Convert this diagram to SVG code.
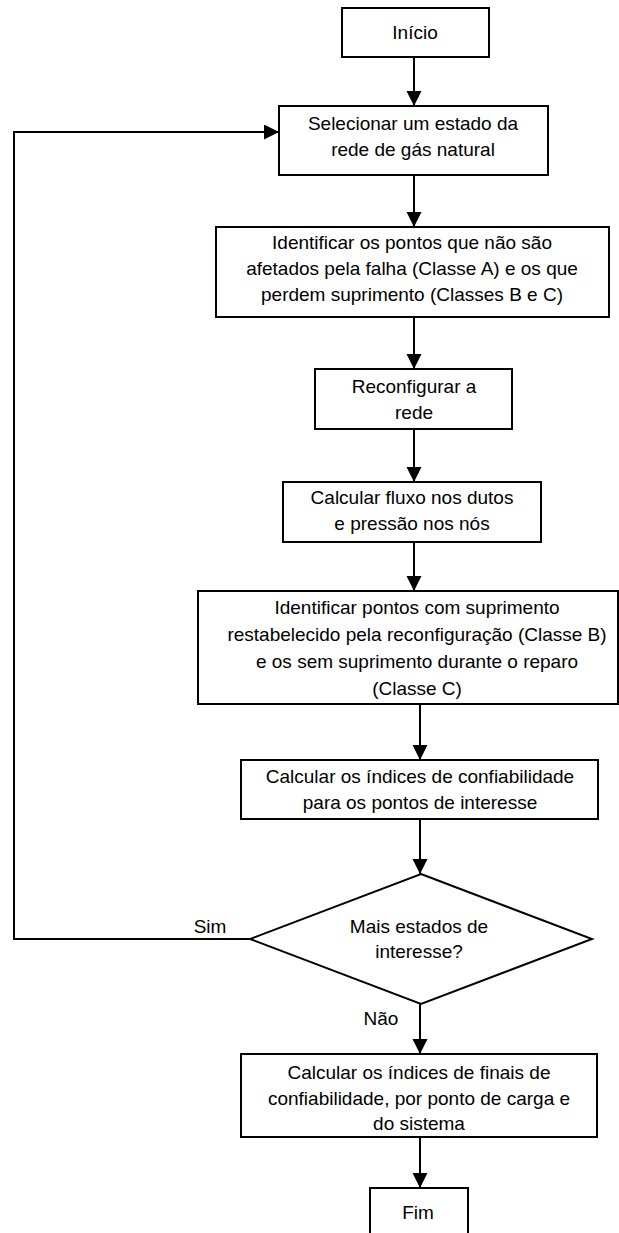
<svg xmlns="http://www.w3.org/2000/svg" width="619" height="1233" viewBox="0 0 619 1233">
  <defs>
    <marker id="arrow" markerUnits="userSpaceOnUse" markerWidth="16" markerHeight="16" refX="15" refY="7.5" orient="auto">
      <path d="M0,0 L15,7.5 L0,15 Z" fill="#000"/>
    </marker>
    <style>
      .box { fill: #fff; stroke: #000; stroke-width: 2; }
      .lbl { font-family: "Liberation Sans", Arial, sans-serif; font-size: 19px; fill: #000; text-anchor: middle; }
      .edge { fill: none; stroke: #000; stroke-width: 2; }
      .arr { marker-end: url(#arrow); }
    </style>
  </defs>
  <rect width="619" height="1233" fill="#fff"/>

  <g id="connectors">
    <path class="edge arr" d="M414,57 V106"/>
    <path class="edge arr" d="M414,175 V227"/>
    <path class="edge arr" d="M414,317 V369"/>
    <path class="edge arr" d="M414,429 V482"/>
    <path class="edge arr" d="M414,542 V591"/>
    <path class="edge arr" d="M420,704 V760"/>
    <path class="edge arr" d="M420,819 V874"/>
    <path class="edge arr" d="M420,1004 V1054"/>
    <path class="edge arr" d="M420,1137 V1188"/>
    <path class="edge arr" d="M250,939 H14 V132 H279"/>
    <text class="lbl" x="210" y="933">Sim</text>
    <text class="lbl" x="381" y="1025">Não</text>
  </g>

  <g id="inicio">
    <rect class="box" x="342" y="8" width="147" height="49"/>
    <text class="lbl" x="415" y="39">Início</text>
  </g>

  <g id="selecionar">
    <rect class="box" x="279" y="106" width="269" height="69"/>
    <text class="lbl" x="413" y="130">Selecionar um estado da</text>
    <text class="lbl" x="413" y="156">rede de gás natural</text>
  </g>

  <g id="identificar-afetados">
    <rect class="box" x="216" y="227" width="393" height="90"/>
    <text class="lbl" x="412" y="249">Identificar os pontos que não são</text>
    <text class="lbl" x="412" y="275">afetados pela falha (Classe A) e os que</text>
    <text class="lbl" x="412" y="301">perdem suprimento (Classes B e C)</text>
  </g>

  <g id="reconfigurar">
    <rect class="box" x="315" y="369" width="197" height="60"/>
    <text class="lbl" x="414" y="393">Reconfigurar a</text>
    <text class="lbl" x="414" y="419">rede</text>
  </g>

  <g id="calcular-fluxo">
    <rect class="box" x="283" y="482" width="258" height="60"/>
    <text class="lbl" x="412" y="504">Calcular fluxo nos dutos</text>
    <text class="lbl" x="412" y="530">e pressão nos nós</text>
  </g>

  <g id="identificar-restabelecidos">
    <rect class="box" x="198" y="591" width="420" height="113"/>
    <text class="lbl" x="417" y="614">Identificar pontos com suprimento</text>
    <text class="lbl" x="417" y="641">restabelecido pela reconfiguração (Classe B)</text>
    <text class="lbl" x="417" y="668">e os sem suprimento durante o reparo</text>
    <text class="lbl" x="417" y="695">(Classe C)</text>
  </g>

  <g id="calcular-indices">
    <rect class="box" x="241" y="760" width="357" height="59"/>
    <text class="lbl" x="420" y="783">Calcular os índices de confiabilidade</text>
    <text class="lbl" x="420" y="809">para os pontos de interesse</text>
  </g>

  <g id="decisao">
    <polygon class="box" points="421,874 592,939 421,1004 250,939"/>
    <text class="lbl" x="419" y="933">Mais estados de</text>
    <text class="lbl" x="419" y="958">interesse?</text>
  </g>

  <g id="calcular-finais">
    <rect class="box" x="241" y="1054" width="356" height="83"/>
    <text class="lbl" x="419" y="1079">Calcular os índices de finais de</text>
    <text class="lbl" x="419" y="1105">confiabilidade, por ponto de carga e</text>
    <text class="lbl" x="419" y="1130">do sistema</text>
  </g>

  <g id="fim">
    <rect class="box" x="370" y="1188" width="98" height="60"/>
    <text class="lbl" x="418" y="1219">Fim</text>
  </g>
</svg>
